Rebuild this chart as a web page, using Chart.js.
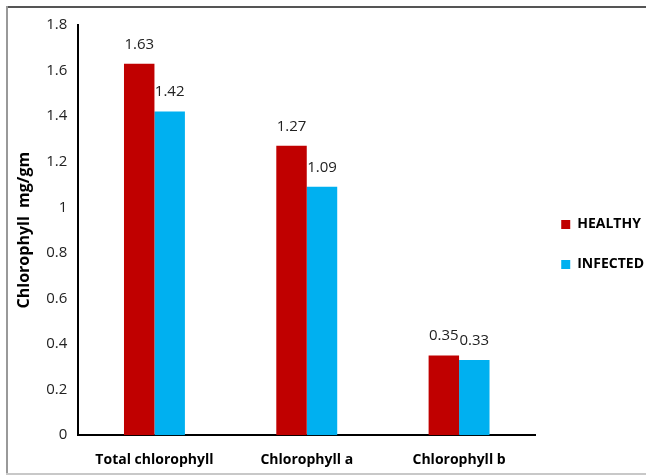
<!DOCTYPE html>
<html>
<head>
<meta charset="utf-8">
<script src="https://cdn.jsdelivr.net/npm/chart.js@4/dist/chart.umd.min.js"></script>
<style>
  html, body { margin: 0; padding: 0; background: #fff; }
  #wrap { width: 646px; height: 475px; position: relative; }
</style>
</head>
<body>
<div id="wrap"><canvas id="c" width="646" height="475"></canvas></div>
<script>
// Chlorophyll content (mg/gm) of healthy vs. infected leaves
const categories = ['Total chlorophyll', 'Chlorophyll a', 'Chlorophyll b'];
const healthy = [1.63, 1.27, 0.35];
const infected = [1.42, 1.09, 0.33];
const seriesNames = ['HEALTHY', 'INFECTED'];
const yTicks = [0, 0.2, 0.4, 0.6, 0.8, 1, 1.2, 1.4, 1.6, 1.8];

const FONT = "'Open Sans', sans-serif";

// Value labels above each bar
const valueLabels = {
  id: 'valueLabels',
  afterDatasetsDraw(chart) {
    const ctx = chart.ctx;
    ctx.save();
    ctx.font = '15px ' + FONT;
    ctx.fillStyle = '#222';
    ctx.textAlign = 'center';
    ctx.textBaseline = 'bottom';
    chart.data.datasets.forEach((ds, i) => {
      const meta = chart.getDatasetMeta(i);
      meta.data.forEach((bar, j) => {
        ctx.fillText(ds.data[j].toFixed(2), bar.x, bar.y - 12);
      });
    });
    ctx.restore();
  }
};

// Raise the legend a little above the vertical centre
const legendLift = {
  id: 'legendLift',
  afterLayout(chart) {
    if (chart.legend) {
      chart.legend.top -= 10;
      chart.legend.bottom -= 10;
    }
  }
};

// Frame around the chart
const frame = {
  id: 'frame',
  afterDraw(chart) {
    const ctx = chart.ctx;
    ctx.save();
    ctx.lineWidth = 2;
    ctx.strokeStyle = '#555';
    ctx.beginPath(); ctx.moveTo(6, 7); ctx.lineTo(646, 7); ctx.stroke();
    ctx.strokeStyle = '#999';
    ctx.beginPath(); ctx.moveTo(7, 6); ctx.lineTo(7, 474); ctx.stroke();
    ctx.strokeStyle = '#c8c8c8';
    ctx.beginPath(); ctx.moveTo(6, 474); ctx.lineTo(646, 474); ctx.stroke();
    ctx.restore();
  }
};

new Chart(document.getElementById('c'), {
  type: 'bar',
  data: {
    labels: categories,
    datasets: [
      { label: seriesNames[0], data: healthy, backgroundColor: '#C00000' },
      { label: seriesNames[1], data: infected, backgroundColor: '#00B0F0' }
    ]
  },
  options: {
    responsive: false,
    animation: false,
    devicePixelRatio: 1,
    categoryPercentage: 0.4,
    barPercentage: 1.0,
    layout: { padding: { left: 15, top: 25, right: -8, bottom: -9 } },
    plugins: {
      legend: {
        position: 'right',
        align: 'center',
        labels: {
          boxWidth: 9,
          boxHeight: 9,
          padding: 26,
          color: '#000',
          font: { family: FONT, size: 14, weight: 'bold' }
        }
      },
      tooltip: { enabled: false }
    },
    scales: {
      x: {
        grid: { display: false, drawTicks: false },
        border: { color: '#000', width: 2 },
        ticks: {
          color: '#000',
          padding: 16,
          font: { family: FONT, size: 14, weight: 'bold' }
        }
      },
      y: {
        min: 0,
        max: 1.8,
        afterBuildTicks(axis) { axis.ticks = yTicks.map(v => ({ value: v })); },
        grid: { display: false, drawOnChartArea: false, drawTicks: true, tickLength: 5, tickWidth: 2, tickColor: '#000' },
        border: { color: '#000', width: 2 },
        ticks: {
          color: '#222',
          padding: 6,
          font: { family: FONT, size: 15 },
          callback: v => String(v)
        },
        title: {
          display: true,
          text: 'Chlorophyll  mg/gm',
          color: '#000',
          padding: { top: 0, bottom: 6 },
          font: { family: FONT, size: 16, weight: 'bold' }
        }
      }
    }
  },
  plugins: [valueLabels, legendLift, frame]
});
</script>
</body>
</html>
